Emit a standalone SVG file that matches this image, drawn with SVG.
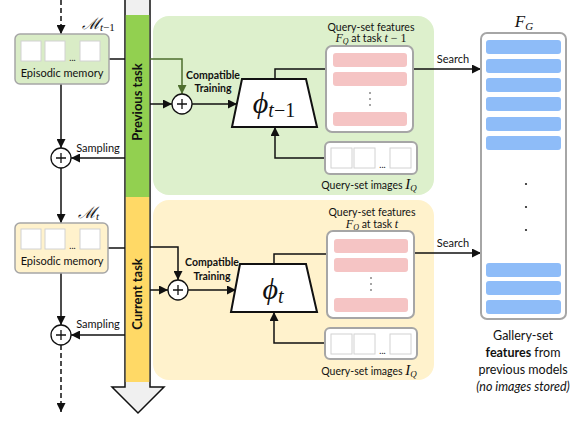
<svg xmlns="http://www.w3.org/2000/svg" width="581" height="426" viewBox="0 0 581 426">
<style>
.t{font-family:Lato,"Liberation Sans",sans-serif;fill:#111}
.b{font-weight:bold}
.m{font-family:"Liberation Serif","DejaVu Serif",serif;font-style:italic;fill:#111}
.box{fill:#fff;stroke:#a6a6a6;stroke-width:2}
.sq{fill:#fff;stroke:#d2d2d2;stroke-width:1}
.pink{fill:#f5c4c4}
.blue{fill:#8ebcf8}
.ln{fill:none;stroke:#111;stroke-width:1.5}
.pl{fill:#fff;stroke:#111;stroke-width:1.3}
.trap{fill:#fff;stroke:#111;stroke-width:2}
</style>
<defs>
<marker id="ah" viewBox="0 0 10 10" refX="10" refY="5" markerWidth="9" markerHeight="9" markerUnits="userSpaceOnUse" orient="auto"><path d="M0,0 L10,5 L0,10 z" fill="#111"/></marker>
<marker id="ahg" viewBox="0 0 10 10" refX="10" refY="5" markerWidth="9" markerHeight="9" markerUnits="userSpaceOnUse" orient="auto"><path d="M0,0 L10,5 L0,10 z" fill="#4e6e2e"/></marker>
</defs>

<g id="panels">
<rect x="153" y="16" width="281" height="179" rx="16" fill="#ddf0cc"/>
<rect x="153" y="200" width="281" height="180" rx="16" fill="#fff2cc"/>
</g>

<g id="timeline">
<path d="M125,0 L125,387 L112,387 L138,413 L164,387 L150,387 L150,0" fill="#f0f0f0" stroke="#111" stroke-width="1.5"/>
<rect x="125.75" y="15" width="23.5" height="182" fill="#92d050"/>
<rect x="125.75" y="197" width="23.5" height="185" fill="#ffd966"/>
<text class="t b" font-size="13" transform="translate(142,102) rotate(-90)" text-anchor="middle">Previous task</text>
<text class="t b" font-size="13" transform="translate(142,294) rotate(-90)" text-anchor="middle">Current task</text>
</g>

<g id="connectors">
<line class="ln" x1="61" y1="0" x2="61" y2="34" stroke-dasharray="5,3" marker-end="url(#ah)"/>
<line class="ln" x1="109" y1="59" x2="125" y2="59"/>
<line class="ln" x1="61" y1="84" x2="61" y2="148" marker-end="url(#ah)"/>
<line class="ln" x1="125" y1="158" x2="71" y2="158" marker-end="url(#ah)"/>
<line class="ln" x1="61" y1="168" x2="61" y2="223" marker-end="url(#ah)"/>
<line class="ln" x1="108" y1="248" x2="125" y2="248"/>
<line class="ln" x1="61" y1="273" x2="61" y2="325" marker-end="url(#ah)"/>
<line class="ln" x1="125" y1="335" x2="71" y2="335" marker-end="url(#ah)"/>
<line class="ln" x1="61" y1="345" x2="61" y2="412" stroke-dasharray="5,3" marker-end="url(#ah)"/>

<polyline points="150,59 182,59 182,94" fill="none" stroke="#4e6e2e" stroke-width="1.5" marker-end="url(#ahg)"/>
<line class="ln" x1="150" y1="104" x2="172" y2="104" marker-end="url(#ah)"/>
<line class="ln" x1="192" y1="104" x2="237" y2="104" marker-end="url(#ah)"/>
<polyline class="ln" points="275,79 275,69 326,69"/>
<polyline class="ln" points="325,158 275,158 275,127" marker-end="url(#ah)"/>
<line class="ln" x1="413" y1="69" x2="481" y2="69" marker-end="url(#ah)"/>
<text class="t" font-size="11" x="453" y="63" text-anchor="middle">Search</text>

<polyline class="ln" points="150,247 178,247 178,280" marker-end="url(#ah)"/>
<line class="ln" x1="150" y1="290" x2="168" y2="290" marker-end="url(#ah)"/>
<line class="ln" x1="188" y1="290" x2="236" y2="290" marker-end="url(#ah)"/>
<polyline class="ln" points="274,264 274,254 327,254"/>
<polyline class="ln" points="325,343 274,343 274,312" marker-end="url(#ah)"/>
<line class="ln" x1="414" y1="253" x2="481" y2="253" marker-end="url(#ah)"/>
<text class="t" font-size="11" x="453" y="247" text-anchor="middle">Search</text>

<text class="t" font-size="11" x="98" y="152" text-anchor="middle">Sampling</text>
<text class="t" font-size="11" x="98" y="328" text-anchor="middle">Sampling</text>
<text class="t b" font-size="10.5" x="213" y="78.5" text-anchor="middle">Compatible</text>
<text class="t b" font-size="10.5" x="213" y="92" text-anchor="middle">Training</text>
<text class="t b" font-size="10.5" x="212" y="265.5" text-anchor="middle">Compatible</text>
<text class="t b" font-size="10.5" x="212" y="279.5" text-anchor="middle">Training</text>
</g>

<g id="mem-prev">
<rect x="15" y="34" width="94" height="50" rx="5" fill="#d9ecc6" stroke="#a6a6a6" stroke-width="1.5"/>
<rect class="sq" x="21" y="41" width="20" height="20"/>
<rect class="sq" x="45" y="41" width="20" height="20"/>
<rect class="sq" x="80" y="41" width="20" height="20"/>
<text class="t" font-size="9" x="72.5" y="61" text-anchor="middle">...</text>
<text class="t" font-size="11" x="62" y="77" text-anchor="middle">Episodic memory</text>
<text class="m" font-size="16" x="82" y="29">ℳ<tspan font-size="11" dy="2">t</tspan><tspan font-size="11" font-style="normal">−1</tspan></text>
</g>

<g id="mem-cur">
<rect x="15" y="223" width="93" height="50" rx="5" fill="#fff2cc" stroke="#a6a6a6" stroke-width="1.5"/>
<rect class="sq" x="21" y="229" width="20" height="20"/>
<rect class="sq" x="45" y="229" width="20" height="20"/>
<rect class="sq" x="80" y="229" width="20" height="20"/>
<text class="t" font-size="9" x="72.5" y="249" text-anchor="middle">...</text>
<text class="t" font-size="11" x="62" y="265" text-anchor="middle">Episodic memory</text>
<text class="m" font-size="16" x="78" y="218">ℳ<tspan font-size="11" dy="2">t</tspan></text>
</g>

<g id="plus-1">
<circle class="pl" cx="61" cy="158" r="10"/>
<path d="M56,158 H66 M61,153 V163" stroke="#111" stroke-width="1.3"/>
</g>
<g id="plus-2">
<circle class="pl" cx="61" cy="335" r="10"/>
<path d="M56,335 H66 M61,330 V340" stroke="#111" stroke-width="1.3"/>
</g>
<g id="plus-3">
<circle class="pl" cx="182" cy="104" r="10"/>
<path d="M177,104 H187 M182,99 V109" stroke="#111" stroke-width="1.3"/>
</g>
<g id="plus-4">
<circle class="pl" cx="178" cy="290" r="10"/>
<path d="M173,290 H183 M178,285 V295" stroke="#111" stroke-width="1.3"/>
</g>

<g id="model-prev">
<polygon class="trap" points="242,79 306,79 317,127 232,127"/>
<text class="m" font-size="30" x="274" y="113" text-anchor="middle">ϕ<tspan font-size="20" dy="4">t</tspan><tspan font-size="20" font-style="normal">−1</tspan></text>
</g>
<g id="model-cur">
<polygon class="trap" points="240,264 306,264 317,312 231,312"/>
<text class="m" font-size="30" x="273" y="299" text-anchor="middle">ϕ<tspan font-size="20" dy="4">t</tspan></text>
</g>

<g id="feat-prev">
<text class="t" font-size="10.5" x="371" y="30.5" text-anchor="middle">Query-set features</text>
<text class="t" font-size="10.5" x="371" y="42" text-anchor="middle"><tspan class="m" font-size="12">F</tspan><tspan class="m" font-size="8" dy="2">Q</tspan><tspan dy="-2"> at task </tspan><tspan class="m" font-size="12">t</tspan><tspan font-family="Liberation Serif,serif" font-size="12"> − 1</tspan></text>
<rect class="box" x="326" y="46" width="87" height="86" rx="6"/>
<rect class="pink" x="333" y="53" width="74" height="14" rx="3"/>
<rect class="pink" x="333" y="72" width="74" height="14" rx="3"/>
<circle cx="370" cy="93" r="0.8" fill="#333"/>
<circle cx="370" cy="99" r="0.8" fill="#333"/>
<circle cx="370" cy="105" r="0.8" fill="#333"/>
<rect class="pink" x="333" y="112" width="74" height="14" rx="3"/>
</g>

<g id="img-prev">
<rect class="box" x="325" y="142" width="92" height="32" rx="5"/>
<rect class="sq" x="331" y="148" width="21" height="20"/>
<rect class="sq" x="354" y="148" width="21" height="20"/>
<rect class="sq" x="390" y="148" width="21" height="20"/>
<text class="t" font-size="9" x="382.5" y="168" text-anchor="middle">...</text>
<text class="t" font-size="10.5" x="369" y="188.5" text-anchor="middle">Query-set images <tspan class="m" font-size="15">I</tspan><tspan class="m" font-size="9" dy="2">Q</tspan></text>
</g>

<g id="feat-cur">
<text class="t" font-size="10.5" x="372" y="215.5" text-anchor="middle">Query-set features</text>
<text class="t" font-size="10.5" x="372" y="227.5" text-anchor="middle"><tspan class="m" font-size="12">F</tspan><tspan class="m" font-size="8" dy="2">Q</tspan><tspan dy="-2"> at task </tspan><tspan class="m" font-size="12">t</tspan></text>
<rect class="box" x="327" y="231" width="87" height="87" rx="6"/>
<rect class="pink" x="334" y="239" width="74" height="14" rx="3"/>
<rect class="pink" x="334" y="258" width="74" height="14" rx="3"/>
<circle cx="371" cy="278" r="0.8" fill="#333"/>
<circle cx="371" cy="284" r="0.8" fill="#333"/>
<circle cx="371" cy="290" r="0.8" fill="#333"/>
<rect class="pink" x="334" y="298" width="74" height="14" rx="3"/>
</g>

<g id="img-cur">
<rect class="box" x="325" y="328" width="92" height="31" rx="5"/>
<rect class="sq" x="331" y="334" width="21" height="20"/>
<rect class="sq" x="354" y="334" width="21" height="20"/>
<rect class="sq" x="390" y="334" width="21" height="20"/>
<text class="t" font-size="9" x="382.5" y="354" text-anchor="middle">...</text>
<text class="t" font-size="10.5" x="369" y="374.5" text-anchor="middle">Query-set images <tspan class="m" font-size="15">I</tspan><tspan class="m" font-size="9" dy="2">Q</tspan></text>
</g>

<g id="gallery">
<text class="m" font-size="17" x="524" y="27" text-anchor="middle">F<tspan font-size="11" dy="3">G</tspan></text>
<rect class="box" x="481" y="33" width="85" height="286" rx="6"/>
<rect class="blue" x="486" y="40" width="75" height="14" rx="3"/>
<rect class="blue" x="486" y="59" width="75" height="14" rx="3"/>
<rect class="blue" x="486" y="78" width="75" height="14" rx="3"/>
<rect class="blue" x="486" y="97" width="75" height="14" rx="3"/>
<rect class="blue" x="486" y="117" width="75" height="14" rx="3"/>
<rect class="blue" x="486" y="136" width="75" height="14" rx="3"/>
<circle cx="526" cy="184" r="1.1" fill="#222"/>
<circle cx="526" cy="207" r="1.1" fill="#222"/>
<circle cx="526" cy="230" r="1.1" fill="#222"/>
<rect class="blue" x="486" y="263" width="75" height="14" rx="3"/>
<rect class="blue" x="486" y="281" width="75" height="14" rx="3"/>
<rect class="blue" x="486" y="300" width="75" height="14" rx="3"/>
<text class="t" font-size="12.5" x="523" y="340" text-anchor="middle">Gallery-set</text>
<text class="t" font-size="12.5" x="523" y="357" text-anchor="middle"><tspan class="b">features</tspan> from</text>
<text class="t" font-size="12.5" x="523" y="374" text-anchor="middle">previous models</text>
<text class="t" font-size="12.5" x="523" y="391" text-anchor="middle" font-style="italic">(no images stored)</text>
</g>
</svg>
